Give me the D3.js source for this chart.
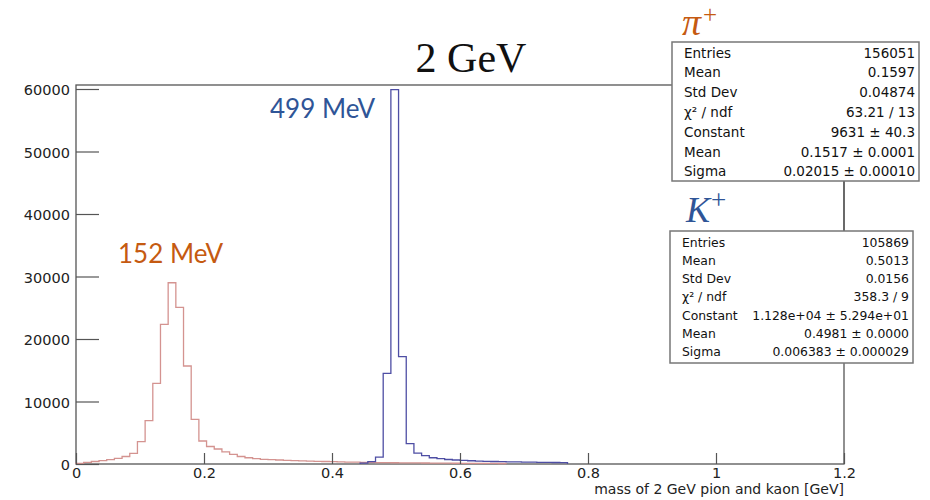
<!DOCTYPE html>
<html>
<head>
<meta charset="utf-8">
<script src="https://cdn.jsdelivr.net/npm/d3@7"></script>
<style>
  html, body { margin: 0; padding: 0; background: #fff; }
  svg { display: block; }
</style>
</head>
<body>
<svg id="chart" width="930" height="500"></svg>
<script>
// Histogram binning: 100 bins over 0 – 1.2 GeV
const binCount = 100;
const xMin = 0, xMax = 1.2;

// pi+ counts per bin, starting at bin 0
const pionStartBin = 0;
const pionCounts = [
  100, 250, 400, 550, 700, 900, 1200, 1700, 3570, 6930,
  12900, 22350, 29000, 25070, 15680, 7150, 3680, 2800, 2400, 1950,
  1550, 1200, 1000, 850, 750, 700, 640, 580, 540, 500,
  470, 430, 400, 370, 340, 310, 290, 270, 250, 230,
  210, 200, 190, 180, 170, 160, 150, 140, 130, 120,
  110, 100, 95, 90, 85, 80
];

// K+ counts per bin, starting at bin 37
const kaonStartBin = 37;
const kaonCounts = [
  150, 370, 1100, 14500, 59900, 17170, 3250, 1750, 1350, 1000,
  850, 720, 640, 580, 520, 470, 430, 400, 370, 350,
  330, 310, 290, 270, 250, 240, 220
];

// Axis ticks
const yMajorTicks = [0, 10000, 20000, 30000, 40000, 50000, 60000];
const yMinorTicks = d3.range(0, 60001, 2000);
const xMajorTicks = [0, 0.2, 0.4, 0.6, 0.8, 1.0, 1.2];
const xTickLabels = ["0", "0.2", "0.4", "0.6", "0.8", "1", "1.2"];
const xMinorTicks = d3.range(0, 24).map(i => +(i * 0.05).toFixed(2));

// Texts
const title = "2 GeV";
const xAxisTitle = "mass of 2 GeV pion and kaon [GeV]";
const peakLabels = ["152 MeV", "499 MeV"];

// Statistics boxes
const pionStatNames  = ["Entries", "Mean", "Std Dev", "χ² / ndf", "Constant", "Mean", "Sigma"];
const pionStatValues = ["156051", "0.1597", "0.04874", "63.21 / 13", "9631 ± 40.3", "0.1517 ± 0.0001", "0.02015 ± 0.00010"];
const kaonStatNames  = ["Entries", "Mean", "Std Dev", "χ² / ndf", "Constant", "Mean", "Sigma"];
const kaonStatValues = ["105869", "0.5013", "0.0156", "358.3 / 9", "1.128e+04 ± 5.294e+01", "0.4981 ± 0.0000", "0.006383 ± 0.000029"];

const svg = d3.select("#chart");

const frame = { left: 76, right: 844, top: 85, bottom: 464 };
const x = d3.scaleLinear().domain([xMin, xMax]).range([frame.left, frame.right]);
const y = d3.scaleLinear().domain([0, 60640]).range([frame.bottom, frame.top]);
const binWidth = (xMax - xMin) / binCount;

const axisColor = "#555";
const labelFont = "'DejaVu Sans', 'Liberation Sans', sans-serif";

// Frame
svg.append("rect")
  .attr("x", frame.left).attr("y", frame.top)
  .attr("width", frame.right - frame.left).attr("height", frame.bottom - frame.top)
  .attr("fill", "none").attr("stroke", axisColor).attr("stroke-width", 1.3);

// Histogram outline as a step path
function stepPoints(startBin, counts) {
  const pts = [[x(xMin + startBin * binWidth), y(0)]];
  counts.forEach((c, i) => {
    const lo = xMin + (startBin + i) * binWidth;
    const hi = lo + binWidth;
    pts.push([x(lo), y(c)], [x(hi), y(c)]);
  });
  pts.push([x(xMin + (startBin + counts.length) * binWidth), y(0)]);
  return pts;
}

const line = d3.line();

svg.append("path")
  .attr("d", line(stepPoints(pionStartBin, pionCounts)))
  .attr("fill", "none").attr("stroke", "#d49390").attr("stroke-width", 1.3);

svg.append("path")
  .attr("d", line(stepPoints(kaonStartBin, kaonCounts)))
  .attr("fill", "none").attr("stroke", "#4e4ea4").attr("stroke-width", 1.3);

// Y axis: ticks point into the frame
const yAxisG = svg.append("g").attr("transform", `translate(${frame.left},0)`);
yAxisG.call(d3.axisLeft(y).tickValues(yMinorTicks).tickSizeInner(-11).tickSizeOuter(0).tickFormat(""));
yAxisG.call(d3.axisLeft(y).tickValues(yMajorTicks).tickSizeInner(-23).tickSizeOuter(0).tickPadding(6).tickFormat(d3.format("d")));
yAxisG.selectAll(".domain").remove();
yAxisG.selectAll("line").attr("stroke", axisColor).attr("stroke-width", 1.2);
yAxisG.selectAll("text")
  .attr("font-family", labelFont).attr("font-size", 14.5).attr("fill", "#222")
  .attr("dy", "0.4em");

// X axis
const xAxisG = svg.append("g").attr("transform", `translate(0,${frame.bottom})`);
xAxisG.call(d3.axisBottom(x).tickValues(xMinorTicks).tickSizeInner(-5.5).tickSizeOuter(0).tickFormat(""));
xAxisG.call(d3.axisBottom(x).tickValues(xMajorTicks).tickSizeInner(-11).tickSizeOuter(0).tickPadding(6)
  .tickFormat((d, i) => xTickLabels[i]));
xAxisG.selectAll(".domain").remove();
xAxisG.selectAll("line").attr("stroke", axisColor).attr("stroke-width", 1.2);
xAxisG.selectAll("text")
  .attr("font-family", labelFont).attr("font-size", 14.5).attr("fill", "#222")
  .attr("y", 14).attr("dy", "0");

svg.append("text")
  .attr("x", frame.right).attr("y", 494)
  .attr("text-anchor", "end")
  .attr("font-family", labelFont).attr("font-size", 14)
  .attr("fill", "#222")
  .text(xAxisTitle);

// Title
svg.append("text")
  .attr("x", 471).attr("y", 72)
  .attr("text-anchor", "middle")
  .attr("font-family", "'Liberation Serif', 'DejaVu Serif', serif")
  .attr("font-size", 42).attr("fill", "#111")
  .text(title);

// Peak annotations
svg.append("text")
  .attr("x", 118).attr("y", 263)
  .attr("font-family", "Lato, 'Open Sans', sans-serif").attr("font-size", 26)
  .attr("fill", "#c55a11").text(peakLabels[0]);
svg.append("text")
  .attr("x", 270).attr("y", 118)
  .attr("font-family", "Lato, 'Open Sans', sans-serif").attr("font-size", 26)
  .attr("fill", "#2f5597").text(peakLabels[1]);

// Frame edge visible between the two statistics boxes
svg.append("line")
  .attr("x1", frame.right).attr("x2", frame.right)
  .attr("y1", 181).attr("y2", 232)
  .attr("stroke", axisColor).attr("stroke-width", 1.3);

// Statistics box
function statBox(box, names, values, rowStart, rowStep, fontSize) {
  const g = svg.append("g");
  g.append("rect")
    .attr("x", box.x0).attr("y", box.y0)
    .attr("width", box.x1 - box.x0).attr("height", box.y1 - box.y0)
    .attr("fill", "#fff").attr("stroke", "#777").attr("stroke-width", 1.5);
  names.forEach((n, i) => {
    g.append("text")
      .attr("x", box.x0 + 12).attr("y", rowStart + i * rowStep)
      .attr("dy", "0.36em")
      .attr("font-family", labelFont).attr("font-size", fontSize).attr("fill", "#111")
      .text(n);
    g.append("text")
      .attr("x", box.x1 - 4).attr("y", rowStart + i * rowStep)
      .attr("dy", "0.36em")
      .attr("text-anchor", "end")
      .attr("font-family", labelFont).attr("font-size", fontSize).attr("fill", "#111")
      .text(values[i]);
  });
}

statBox({ x0: 672, x1: 919, y0: 42, y1: 181 }, pionStatNames, pionStatValues, 52.7, 19.8, 13.5);
statBox({ x0: 670, x1: 913, y0: 231, y1: 363 }, kaonStatNames, kaonStatValues, 242.3, 18.2, 12.4);

// Particle labels
const pi = svg.append("text")
  .attr("x", 682).attr("y", 35)
  .attr("font-family", "'Liberation Serif', 'DejaVu Serif', serif")
  .attr("font-style", "italic").attr("font-size", 38).attr("fill", "#c55a11");
pi.append("tspan").text("π");
pi.append("tspan").attr("font-size", 25).attr("font-style", "normal").attr("dy", -12).attr("dx", 2).text("+");

const k = svg.append("text")
  .attr("x", 686).attr("y", 222)
  .attr("font-family", "'Liberation Serif', 'DejaVu Serif', serif")
  .attr("font-style", "italic").attr("font-size", 36).attr("fill", "#2f5597");
k.append("tspan").text("K");
k.append("tspan").attr("font-size", 27).attr("font-style", "normal").attr("dy", -13).attr("dx", 1).text("+");
</script>
</body>
</html>
